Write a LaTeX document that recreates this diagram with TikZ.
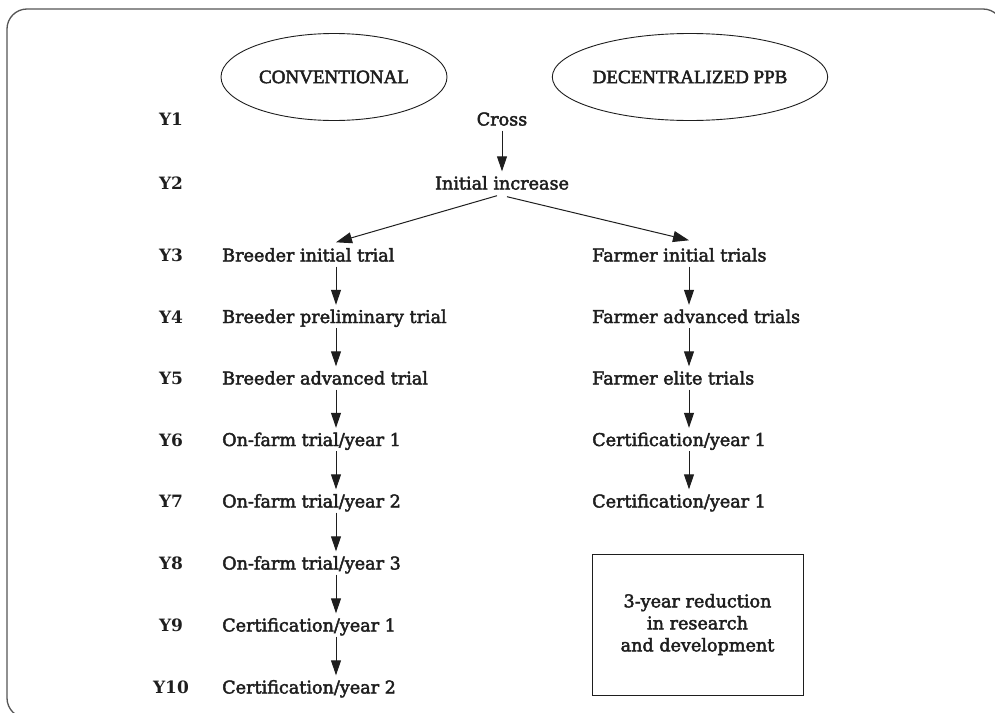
\documentclass[tikz,border=0pt]{standalone}
\usepackage{fontspec}
\setmainfont[FakeBold=2.5]{DejaVu Serif}
\newfontfamily\yrfont{DejaVu Serif Bold}
\newfontfamily\ellfont[FakeBold=2.5]{Liberation Serif}
\usetikzlibrary{shapes.geometric,arrows.meta}
\definecolor{ink}{HTML}{1E1E1E}
\definecolor{frame}{HTML}{555555}
\begin{document}
\begin{tikzpicture}[x=1pt,y=-1pt,
  txt/.style={inner sep=0pt, text height=13pt, text depth=4pt, font=\fontsize{17.6}{22}\selectfont, text=ink},
  lft/.style={txt, anchor=base west},
  yr/.style={txt, anchor=base, font=\yrfont\fontsize{17}{22}\selectfont},
  mid/.style={txt, anchor=base},
  oval/.style={ellipse, draw=ink, line width=0.9pt, minimum width=226pt, minimum height=87pt, inner sep=0pt, font=\ellfont\fontsize{19}{22}\selectfont, text=ink},
  note/.style={rectangle, draw=ink, line width=1pt, minimum width=211pt, minimum height=141pt, align=center, inner sep=0pt, font=\fontsize{17.6}{22}\selectfont, text=ink},
  arr/.style={draw=ink, line width=1pt, -{Triangle[length=15pt,width=10pt]}, shorten <=1pt, shorten >=5pt},
  darr/.style={draw=ink, line width=1pt, -{Triangle[length=16pt,width=11pt]}}
]
\useasboundingbox (0,0) rectangle (995,712);
\begin{scope}
  \clip (0,0) rectangle (995,712);
  \draw[frame, line width=1.3pt, rounded corners=20pt] (7,9) rectangle (1003,718);
\end{scope}

% headers
\node[oval] (conv) at (334,77) {CONVENTIONAL};
\node[oval] (dec) at (690,77) {DECENTRALIZED PPB};

% year labels
\node[yr] (y1) at (171,125.5) {Y1};
\node[yr] (y2) at (171,189.5) {Y2};
\node[yr] (y3) at (171,261.5) {Y3};
\node[yr] (y4) at (171,323) {Y4};
\node[yr] (y5) at (171,384.5) {Y5};
\node[yr] (y6) at (171,446) {Y6};
\node[yr] (y7) at (171,507.5) {Y7};
\node[yr] (y8) at (171,569.5) {Y8};
\node[yr] (y9) at (171,631.5) {Y9};
\node[yr] (y10) at (171,693.5) {Y10};

% common trunk
\node[mid] (cross) at (502,125.5) {Cross};
\node[mid] (init) at (502,189.5) {Initial increase};

% conventional column
\node[lft] (b3) at (222,261.5) {Breeder initial trial};
\node[lft] (b4) at (222,323) {Breeder preliminary trial};
\node[lft] (b5) at (222,384.5) {Breeder advanced trial};
\node[lft] (b6) at (222,446) {On-farm trial/year 1};
\node[lft] (b7) at (222,507.5) {On-farm trial/year 2};
\node[lft] (b8) at (222,569.5) {On-farm trial/year 3};
\node[lft] (b9) at (222,631.5) {Certification/year 1};
\node[lft] (b10) at (222,693.5) {Certification/year 2};

% decentralized column
\node[lft] (f3) at (592,261.5) {Farmer initial trials};
\node[lft] (f4) at (592,323) {Farmer advanced trials};
\node[lft] (f5) at (592,384.5) {Farmer elite trials};
\node[lft] (f6) at (592,446) {Certification/year 1};
\node[lft] (f7) at (592,507.5) {Certification/year 1};

\node[note] (box) at (697.5,624.5) {3-year reduction\\in research\\and development};

\coordinate (lx) at (336,0);
\coordinate (rx) at (689,0);

% arrows
\draw[arr] (cross.south) -- (init.north);
\draw[darr] ([xshift=-5pt,yshift=-2pt]init.south) -- ([yshift=6pt]b3.north -| lx);
\draw[darr] ([xshift=5pt,yshift=-3pt]init.south) -- ([yshift=8pt]f3.north -| rx);

\draw[arr] (b3.south -| lx) -- (b4.north -| lx);
\draw[arr] (b4.south -| lx) -- (b5.north -| lx);
\draw[arr] (b5.south -| lx) -- (b6.north -| lx);
\draw[arr] (b6.south -| lx) -- (b7.north -| lx);
\draw[arr] (b7.south -| lx) -- (b8.north -| lx);
\draw[arr] (b8.south -| lx) -- (b9.north -| lx);
\draw[arr] (b9.south -| lx) -- (b10.north -| lx);

\draw[arr] (f3.south -| rx) -- (f4.north -| rx);
\draw[arr] (f4.south -| rx) -- (f5.north -| rx);
\draw[arr] (f5.south -| rx) -- (f6.north -| rx);
\draw[arr] (f6.south -| rx) -- (f7.north -| rx);
\end{tikzpicture}
\end{document}
